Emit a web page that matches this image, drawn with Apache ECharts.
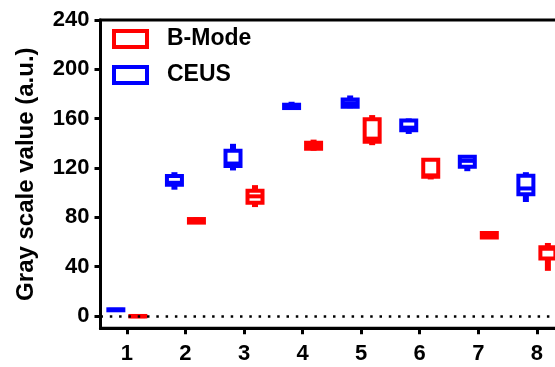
<!DOCTYPE html>
<html>
<head>
<meta charset="utf-8">
<script src="https://cdn.jsdelivr.net/npm/echarts@6/dist/echarts.min.js"></script>
<style>
  html, body { margin: 0; padding: 0; background: #fff; }
  #main { width: 555px; height: 367px; }
</style>
</head>
<body>
<div id="main"></div>
<script>
const chart = echarts.init(document.querySelector('#main'))

const FONT = "'Liberation Sans', Arial, sans-serif"

// groups on the x axis
const categories = [1, 2, 3, 4, 5, 6, 7, 8]
const yTicks = [0, 40, 80, 120, 160, 200, 240]

// each row: [min, q1, median, q3, max]
const ceusBoxes = [
  [4.4, 4.6, 5, 5.4, 5.6],
  [102.4, 106.4, 108, 113.4, 116.6],
  [118, 121.7, 123.6, 133.9, 139.6],
  [168, 168.6, 170, 171.3, 173.7],
  [168.5, 169.7, 172.5, 175.6, 178.8],
  [147.6, 150.5, 152.7, 158.6, 160.2],
  [117.4, 121, 125.8, 129.1, 130],
  [92.4, 98.6, 103.4, 113.7, 116.6]
]
const bmodeBoxes = [
  [-0.6, -0.4, -0.2, 0, 0.2],
  [75, 75.7, 77, 78.6, 80],
  [88.3, 91.9, 97, 101.6, 106.1],
  [134, 135.5, 138, 140.4, 143],
  [138.5, 141.2, 143.8, 159.6, 162.9],
  [110.7, 112.9, 114, 126.6, 127.5],
  [63, 63.6, 65.5, 67.3, 68],
  [36.6, 46.6, 54.5, 55.8, 59.2]
]

const RED = '#ff0000'
const BLUE = '#0000ff'
const BOX_W = 15

function boxRenderer (offsetPx, color) {
  return function (params, api) {
    const x = api.value(0)
    const cx = api.coord([x, 0])[0] + offsetPx
    const yMin = api.coord([x, api.value(1)])[1]
    const yQ1 = api.coord([x, api.value(2)])[1]
    const yMed = api.coord([x, api.value(3)])[1]
    const yQ3 = api.coord([x, api.value(4)])[1]
    const yMax = api.coord([x, api.value(5)])[1]
    return {
      type: 'group',
      children: [
        { type: 'line', shape: { x1: cx, y1: yMax, x2: cx, y2: yQ3 }, style: { stroke: color, lineWidth: 6 } },
        { type: 'line', shape: { x1: cx, y1: yQ1, x2: cx, y2: yMin }, style: { stroke: color, lineWidth: 6 } },
        {
          type: 'rect',
          shape: { x: cx - BOX_W / 2, y: yQ3, width: BOX_W, height: yQ1 - yQ3 },
          style: { fill: '#fff', stroke: color, lineWidth: 4 }
        },
        {
          type: 'line',
          shape: { x1: cx - BOX_W / 2, y1: yMed, x2: cx + BOX_W / 2, y2: yMed },
          style: { stroke: color, lineWidth: 4 }
        }
      ]
    }
  }
}

const toRows = boxes => categories.map((c, i) => [c].concat(boxes[i]))

const option = {
  animation: false,
  backgroundColor: '#fff',
  grid: {
    left: 100.5,
    width: 468.6,
    top: 20,
    bottom: 38.7,
    outerBoundsMode: 'none',
    show: true,
    borderColor: '#000',
    borderWidth: 3
  },
  legend: {
    orient: 'vertical',
    left: 107,
    top: 22.5,
    itemWidth: 33,
    itemHeight: 16,
    itemGap: 13,
    textStyle: {
      fontFamily: FONT,
      fontWeight: 'bold',
      fontSize: 23,
      color: '#000',
      lineHeight: 15,
      padding: [0, 0, 0, 15]
    },
    data: [
      { name: 'B-Mode', icon: 'rect', itemStyle: { color: '#fff', borderColor: RED, borderWidth: 4 } },
      { name: 'CEUS', icon: 'rect', itemStyle: { color: '#fff', borderColor: BLUE, borderWidth: 4 } }
    ]
  },
  xAxis: {
    type: 'value',
    min: 0.55,
    max: 8.55,
    axisLine: { onZero: false, lineStyle: { color: '#000', width: 3 } },
    axisTick: { customValues: categories, length: 6, lineStyle: { color: '#000', width: 3 } },
    axisLabel: {
      customValues: categories,
      margin: 15,
      fontFamily: FONT,
      fontWeight: 'bold',
      fontSize: 22,
      color: '#000'
    },
    splitLine: { show: false }
  },
  yAxis: {
    type: 'value',
    min: -10,
    max: 240,
    name: 'Gray scale value (a.u.)',
    nameLocation: 'middle',
    nameGap: 62,
    nameTextStyle: {
      fontFamily: FONT,
      fontWeight: 'bold',
      fontSize: 24,
      color: '#000'
    },
    axisLine: { show: true, onZero: false, lineStyle: { color: '#000', width: 3 } },
    axisTick: { show: true, customValues: yTicks, length: 6, lineStyle: { color: '#000', width: 3 } },
    axisLabel: {
      customValues: yTicks,
      margin: 11,
      fontFamily: FONT,
      fontWeight: 'bold',
      fontSize: 22,
      color: '#000'
    },
    splitLine: { show: false }
  },
  series: [
    {
      // dotted zero line
      type: 'line',
      data: [],
      z: 1,
      silent: true,
      markLine: {
        silent: true,
        symbol: 'none',
        label: { show: false },
        lineStyle: { color: '#000', width: 2.5, type: [2.5, 6.8], cap: 'butt' },
        data: [{ yAxis: 0 }]
      }
    },
    {
      name: 'CEUS',
      type: 'custom',
      z: 2,
      renderItem: boxRenderer(-11, BLUE),
      encode: { x: 0, y: [1, 2, 3, 4, 5] },
      data: toRows(ceusBoxes)
    },
    {
      name: 'B-Mode',
      type: 'custom',
      z: 2,
      renderItem: boxRenderer(11, RED),
      encode: { x: 0, y: [1, 2, 3, 4, 5] },
      data: toRows(bmodeBoxes)
    }
  ]
}

chart.setOption(option)
</script>
</body>
</html>
